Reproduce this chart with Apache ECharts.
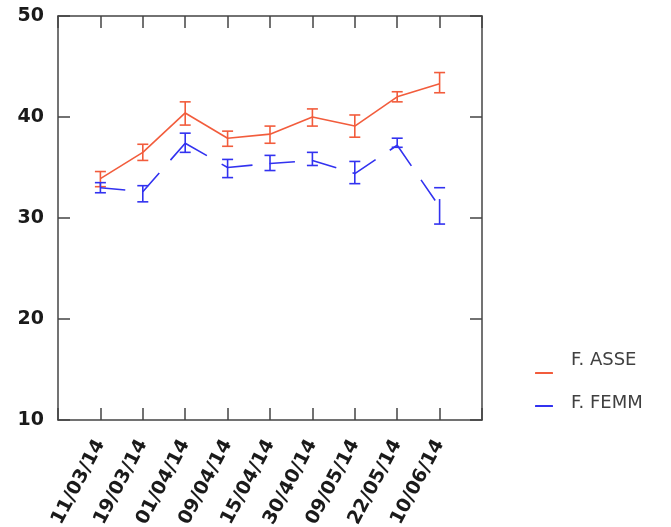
<!DOCTYPE html>
<html>
<head>
<meta charset="utf-8">
<style>
  html, body { margin: 0; padding: 0; background: #fff; }
  #chart { width: 671px; height: 527px; }
</style>
<script src="https://cdn.jsdelivr.net/npm/echarts@6/dist/echarts.min.js"></script>
</head>
<body>
<div id="chart"></div>
<script>
var dates = ['11/03/14', '19/03/14', '01/04/14', '09/04/14', '15/04/14', '30/40/14', '09/05/14', '22/05/14', '10/06/14'];
var seriesNames = ['F. ASSE', 'F. FEMM'];

var asseMean = [33.9, 36.5, 40.4, 37.9, 38.3, 40.0, 39.1, 42.0, 43.3];
var asseLow  = [33.1, 35.7, 39.2, 37.1, 37.4, 39.1, 38.0, 41.5, 42.4];
var asseHigh = [34.6, 37.3, 41.5, 38.6, 39.1, 40.8, 40.2, 42.5, 44.4];

var femmMean = [33.0, 32.6, 37.4, 35.0, 35.4, 35.7, 34.4, 37.2, 31.1];
var femmLow  = [32.5, 31.6, 36.5, 34.0, 34.7, 35.2, 33.4, 37.0, 29.4];
var femmHigh = [33.5, 33.2, 38.4, 35.8, 36.2, 36.5, 35.6, 37.9, 33.0];

var axisColor = '#444';

// line + error bars; each segment restarts its own dash pattern
function errorSeries(name, color, mean, low, high, dash) {
  return {
    name: name,
    type: 'custom',
    itemStyle: { color: color },
    data: mean.map(function (v, i) { return [i + 1, v, low[i], high[i]]; }),
    encode: { x: 0, y: [1, 2, 3] },
    renderItem: function (params, api) {
      var i = params.dataIndex;
      var x = api.value(0);
      var p = api.coord([x, api.value(1)]);
      var lo = api.coord([x, api.value(2)]);
      var hi = api.coord([x, api.value(3)]);
      var dashed = { stroke: color, lineWidth: 1.6 };
      if (dash) dashed.lineDash = dash;
      var solid = { stroke: color, lineWidth: 1.6 };
      var kids = [
        { type: 'line', shape: { x1: lo[0], y1: lo[1], x2: hi[0], y2: hi[1] }, style: dashed },
        { type: 'line', shape: { x1: lo[0] - 5.5, y1: lo[1], x2: lo[0] + 5.5, y2: lo[1] }, style: solid },
        { type: 'line', shape: { x1: hi[0] - 5.5, y1: hi[1], x2: hi[0] + 5.5, y2: hi[1] }, style: solid }
      ];
      if (i < mean.length - 1) {
        var q = api.coord([x + 1, mean[i + 1]]);
        kids.push({ type: 'line', shape: { x1: p[0], y1: p[1], x2: q[0], y2: q[1] }, style: dashed });
      }
      return { type: 'group', children: kids };
    }
  };
}

var chart = echarts.init(document.getElementById('chart'));

var tickStyle = { show: true, inside: true, length: 12, lineStyle: { color: axisColor, width: 1.5 } };
var lineStyle = { show: true, onZero: false, lineStyle: { color: axisColor, width: 1.5 } };

chart.setOption({
  animation: false,
  grid: { left: 58, right: 189, top: 16, bottom: 107, containLabel: false, outerBoundsMode: 'none' },
  legend: [
    // markers sit lower than their texts, so they get a legend of their own
    {
      data: seriesNames, orient: 'vertical', left: 535, top: 372, padding: 0,
      itemWidth: 18, itemHeight: 2, itemGap: 31,
      formatter: function () { return ''; },
      textStyle: { fontSize: 2, lineHeight: 2 }
    },
    {
      data: seriesNames.map(function (n) { return { name: n, icon: 'none' }; }),
      orient: 'vertical', left: 566, top: 350, padding: 0,
      itemWidth: 0, itemHeight: 2, itemGap: 23,
      textStyle: { fontFamily: 'DejaVu Sans', fontSize: 18, lineHeight: 20, color: '#404040' }
    }
  ],
  xAxis: [
    {
      type: 'value', min: 0, max: 10, interval: 1, position: 'bottom',
      axisLine: lineStyle, axisTick: tickStyle, splitLine: { show: false },
      axisLabel: {
        rotate: 62, margin: 21,
        fontFamily: 'DejaVu Sans', fontWeight: 'bold', fontSize: 19, color: '#1a1a1a',
        formatter: function (v) { return (v >= 1 && v <= 9) ? dates[v - 1] : ''; }
      }
    },
    {
      type: 'value', min: 0, max: 10, interval: 1, position: 'top',
      axisLine: lineStyle, axisTick: tickStyle, splitLine: { show: false },
      axisLabel: { show: false }
    }
  ],
  yAxis: [
    {
      type: 'value', min: 10, max: 50, interval: 10, position: 'left',
      axisLine: lineStyle, axisTick: tickStyle, splitLine: { show: false },
      axisLabel: {
        margin: 14, padding: [0, 0, 6, 0],
        fontFamily: 'DejaVu Sans', fontWeight: 'bold', fontSize: 19, color: '#1a1a1a'
      }
    },
    {
      type: 'value', min: 10, max: 50, interval: 10, position: 'right',
      axisLine: lineStyle, axisTick: tickStyle, splitLine: { show: false },
      axisLabel: { show: false }
    }
  ],
  series: [
    errorSeries(seriesNames[0], '#f25c3c', asseMean, asseLow, asseHigh, null),
    errorSeries(seriesNames[1], '#3232f0', femmMean, femmLow, femmHigh, [25, 17])
  ]
});
</script>
</body>
</html>
